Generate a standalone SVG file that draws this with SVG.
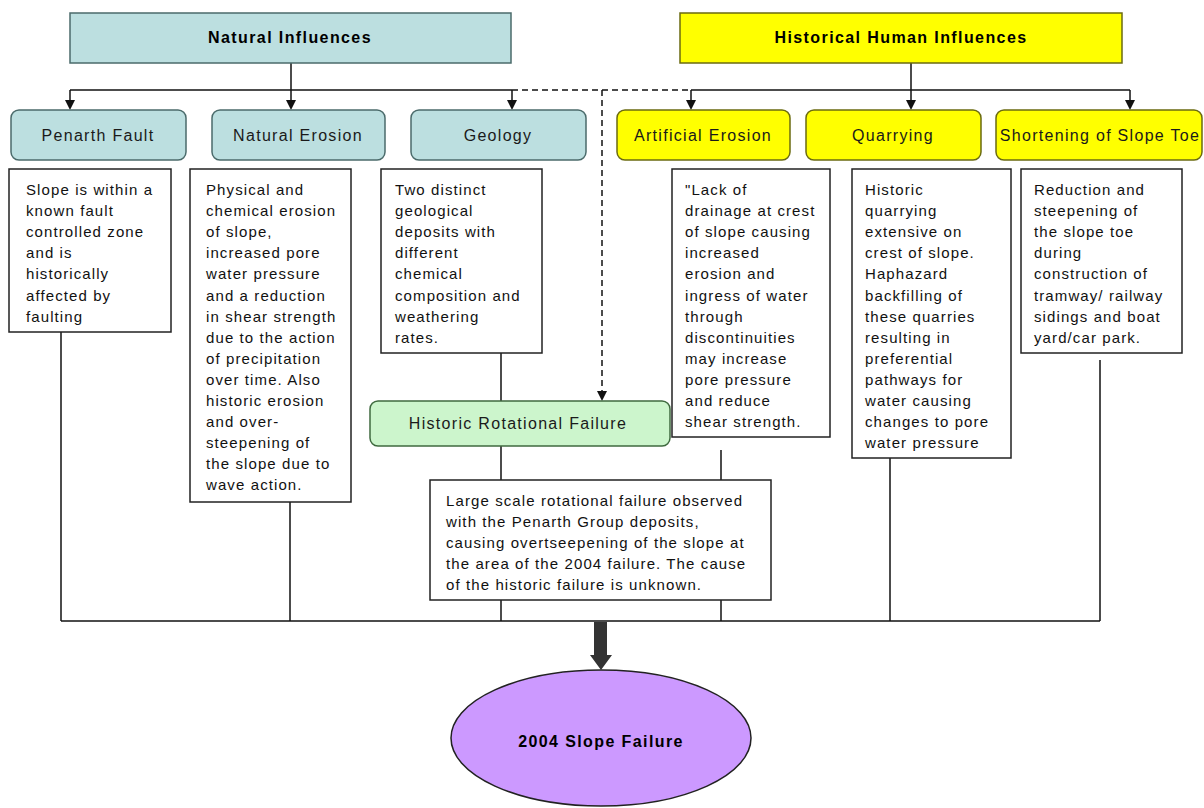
<svg xmlns="http://www.w3.org/2000/svg" width="1204" height="808" viewBox="0 0 1204 808">
<defs>
<style>
.hdr{font-family:"Liberation Sans",Arial,sans-serif;font-weight:bold;font-size:16px;letter-spacing:1.4px;text-anchor:middle;fill:#000}
.lbl{font-family:"Liberation Sans",Arial,sans-serif;font-size:16px;letter-spacing:1.3px;text-anchor:middle;fill:#1a1a1a}
.desc{font-family:"Liberation Sans",Arial,sans-serif;font-size:15px;letter-spacing:1.1px;fill:#111}
.dbox{fill:#fff;stroke:#222;stroke-width:1.5}
.blue{fill:#bcdfe0;stroke:#4b6b6b;stroke-width:1.5}
.yel{fill:#ffff00;stroke:#6b6b10;stroke-width:1.5}
.grn{fill:#ccf5cc;stroke:#3f6a3f;stroke-width:1.5}
.ln{fill:none;stroke:#111;stroke-width:1.5}
.dash{fill:none;stroke:#111;stroke-width:1.5;stroke-dasharray:6,4}
</style>
<marker id="ah" markerWidth="10" markerHeight="10" refX="5" refY="9" orient="auto-start-reverse" markerUnits="userSpaceOnUse" viewBox="0 0 10 10">
<path d="M0,0 L10,0 L5,10 Z" fill="#111" transform="rotate(-90 5 5)"/>
</marker>
</defs>
<rect width="1204" height="808" fill="#fff"/>

<g id="connectors">
<!-- top tree natural -->
<line class="ln" x1="291" y1="63" x2="291" y2="90"/>
<line class="ln" x1="70" y1="90" x2="512" y2="90"/>
<path class="ln" d="M70,90 V101"/><path d="M65,100 L75,100 L70,110 Z" fill="#111"/>
<path class="ln" d="M291,90 V101"/><path d="M286,100 L296,100 L291,110 Z" fill="#111"/>
<path class="ln" d="M512,90 V101"/><path d="M507,100 L517,100 L512,110 Z" fill="#111"/>
<!-- dashed link -->
<line class="dash" x1="512" y1="90" x2="691" y2="90"/>
<line class="dash" x1="602" y1="90" x2="602" y2="392"/>
<path d="M597,391 L607,391 L602,401 Z" fill="#111"/>
<!-- top tree human -->
<line class="ln" x1="911" y1="63" x2="911" y2="101"/>
<line class="ln" x1="691" y1="90" x2="1130" y2="90"/>
<path class="ln" d="M691,90 V101"/><path d="M686,100 L696,100 L691,110 Z" fill="#111"/>
<path d="M906,100 L916,100 L911,110 Z" fill="#111"/>
<path class="ln" d="M1130,90 V101"/><path d="M1125,100 L1135,100 L1130,110 Z" fill="#111"/>
<!-- down to bottom bus -->
<line class="ln" x1="61" y1="332" x2="61" y2="621"/>
<line class="ln" x1="290" y1="502" x2="290" y2="621"/>
<line class="ln" x1="501" y1="353" x2="501" y2="401"/>
<line class="ln" x1="501" y1="446" x2="501" y2="480"/>
<line class="ln" x1="501" y1="600" x2="501" y2="621"/>
<line class="ln" x1="721" y1="450" x2="721" y2="480"/>
<line class="ln" x1="721" y1="600" x2="721" y2="621"/>
<line class="ln" x1="890" y1="458" x2="890" y2="621"/>
<line class="ln" x1="1100" y1="360" x2="1100" y2="621"/>
<line class="ln" x1="61" y1="621" x2="1100" y2="621"/>
<!-- thick arrow -->
<path d="M594,622 H607 V655 H612 L601,670 L590,655 H594 Z" fill="#333"/>
</g>

<g id="natural-influences">
<rect class="blue" x="70" y="13" width="441" height="50"/>
<text class="hdr" x="290" y="43">Natural Influences</text>
</g>
<g id="human-influences">
<rect class="yel" x="680" y="13" width="442" height="50"/>
<text class="hdr" x="901" y="43">Historical Human Influences</text>
</g>

<g id="penarth-fault">
<rect class="blue" x="11" y="110" width="175" height="50" rx="8"/>
<text class="lbl" x="98" y="141">Penarth Fault</text>
</g>
<g id="natural-erosion">
<rect class="blue" x="212" y="110" width="173" height="50" rx="8"/>
<text class="lbl" x="298" y="141">Natural Erosion</text>
</g>
<g id="geology">
<rect class="blue" x="411" y="110" width="175" height="50" rx="8"/>
<text class="lbl" x="498" y="141">Geology</text>
</g>
<g id="artificial-erosion">
<rect class="yel" x="617" y="110" width="173" height="50" rx="8"/>
<text class="lbl" x="703" y="141">Artificial Erosion</text>
</g>
<g id="quarrying">
<rect class="yel" x="806" y="110" width="175" height="50" rx="8"/>
<text class="lbl" x="893" y="141">Quarrying</text>
</g>
<g id="shortening">
<rect class="yel" x="996" y="110" width="206" height="50" rx="8"/>
<text class="lbl" x="1100" y="141" letter-spacing="0.6">Shortening of Slope Toe</text>
</g>

<g id="penarth-desc">
<rect class="dbox" x="9" y="169" width="162" height="163"/>
<text class="desc" x="26" y="195"><tspan x="26">Slope is within a</tspan><tspan x="26" dy="21.1">known fault</tspan><tspan x="26" dy="21.1">controlled zone</tspan><tspan x="26" dy="21.1">and is</tspan><tspan x="26" dy="21.1">historically</tspan><tspan x="26" dy="21.1">affected by</tspan><tspan x="26" dy="21.1">faulting</tspan></text>
</g>
<g id="erosion-desc">
<rect class="dbox" x="190" y="169" width="161" height="333"/>
<text class="desc" x="206" y="195"><tspan x="206">Physical and</tspan><tspan x="206" dy="21.1">chemical erosion</tspan><tspan x="206" dy="21.1">of slope,</tspan><tspan x="206" dy="21.1">increased pore</tspan><tspan x="206" dy="21.1">water pressure</tspan><tspan x="206" dy="21.1">and a reduction</tspan><tspan x="206" dy="21.1">in shear strength</tspan><tspan x="206" dy="21.1">due to the action</tspan><tspan x="206" dy="21.1">of precipitation</tspan><tspan x="206" dy="21.1">over time. Also</tspan><tspan x="206" dy="21.1">historic erosion</tspan><tspan x="206" dy="21.1">and over-</tspan><tspan x="206" dy="21.1">steepening of</tspan><tspan x="206" dy="21.1">the slope due to</tspan><tspan x="206" dy="21.1">wave action.</tspan></text>
</g>
<g id="geology-desc">
<rect class="dbox" x="381" y="169" width="161" height="184"/>
<text class="desc" x="395" y="195"><tspan x="395">Two distinct</tspan><tspan x="395" dy="21.1">geological</tspan><tspan x="395" dy="21.1">deposits with</tspan><tspan x="395" dy="21.1">different</tspan><tspan x="395" dy="21.1">chemical</tspan><tspan x="395" dy="21.1">composition and</tspan><tspan x="395" dy="21.1">weathering</tspan><tspan x="395" dy="21.1">rates.</tspan></text>
</g>
<g id="artificial-desc">
<rect class="dbox" x="672" y="169" width="158" height="268"/>
<text class="desc" x="685" y="195"><tspan x="685">"Lack of</tspan><tspan x="685" dy="21.1">drainage at crest</tspan><tspan x="685" dy="21.1">of slope causing</tspan><tspan x="685" dy="21.1">increased</tspan><tspan x="685" dy="21.1">erosion and</tspan><tspan x="685" dy="21.1">ingress of water</tspan><tspan x="685" dy="21.1">through</tspan><tspan x="685" dy="21.1">discontinuities</tspan><tspan x="685" dy="21.1">may increase</tspan><tspan x="685" dy="21.1">pore pressure</tspan><tspan x="685" dy="21.1">and reduce</tspan><tspan x="685" dy="21.1">shear strength.</tspan></text>
</g>
<g id="quarrying-desc">
<rect class="dbox" x="852" y="169" width="159" height="289"/>
<text class="desc" x="865" y="195"><tspan x="865">Historic</tspan><tspan x="865" dy="21.1">quarrying</tspan><tspan x="865" dy="21.1">extensive on</tspan><tspan x="865" dy="21.1">crest of slope.</tspan><tspan x="865" dy="21.1">Haphazard</tspan><tspan x="865" dy="21.1">backfilling of</tspan><tspan x="865" dy="21.1">these quarries</tspan><tspan x="865" dy="21.1">resulting in</tspan><tspan x="865" dy="21.1">preferential</tspan><tspan x="865" dy="21.1">pathways for</tspan><tspan x="865" dy="21.1">water causing</tspan><tspan x="865" dy="21.1">changes to pore</tspan><tspan x="865" dy="21.1">water pressure</tspan></text>
</g>
<g id="shortening-desc">
<rect class="dbox" x="1021" y="169" width="161" height="184"/>
<text class="desc" x="1034" y="195"><tspan x="1034">Reduction and</tspan><tspan x="1034" dy="21.1">steepening of</tspan><tspan x="1034" dy="21.1">the slope toe</tspan><tspan x="1034" dy="21.1">during</tspan><tspan x="1034" dy="21.1">construction of</tspan><tspan x="1034" dy="21.1">tramway/ railway</tspan><tspan x="1034" dy="21.1">sidings and boat</tspan><tspan x="1034" dy="21.1">yard/car park.</tspan></text>
</g>

<g id="historic-rotational-failure">
<rect class="grn" x="370" y="401" width="300" height="45" rx="8"/>
<text class="lbl" x="518" y="429">Historic Rotational Failure</text>
</g>
<g id="rotational-desc">
<rect class="dbox" x="430" y="480" width="341" height="120"/>
<text class="desc" x="446" y="506"><tspan x="446">Large scale rotational failure observed</tspan><tspan x="446" dy="21">with the Penarth Group deposits,</tspan><tspan x="446" dy="21">causing overtseepening of the slope at</tspan><tspan x="446" dy="21">the area of the 2004 failure. The cause</tspan><tspan x="446" dy="21">of the historic failure is unknown.</tspan></text>
</g>

<g id="slope-failure-2004">
<ellipse cx="601" cy="738" rx="150" ry="68" fill="#cc99ff" stroke="#222" stroke-width="1.5"/>
<text class="hdr" x="601" y="747" letter-spacing="1.2">2004 Slope Failure</text>
</g>
</svg>
